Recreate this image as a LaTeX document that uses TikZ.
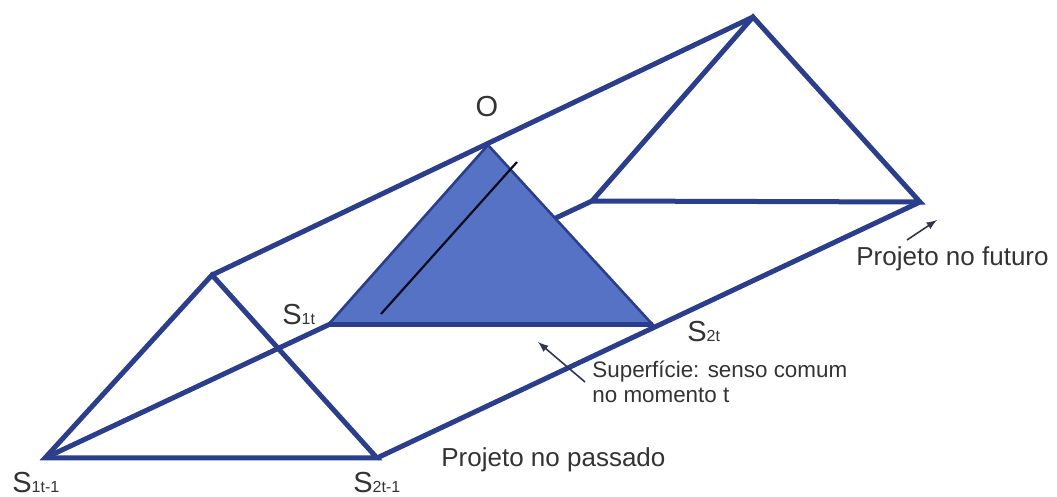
\documentclass[tikz,border=0pt]{standalone}
\usepackage{fontspec}
\setmainfont{Liberation Sans}
\usetikzlibrary{arrows}
\definecolor{prismblue}{HTML}{2B3E8C}
\definecolor{surfblue}{HTML}{5672C4}
\definecolor{labelgray}{HTML}{333333}
\tikzset{
  prism_edge/.style = {draw=prismblue, line width=2.5pt, line join=miter},% aresta do prisma
  surface/.style = {fill=surfblue, draw=prismblue, line width=1.3pt},% superficie no momento t
  axis_line/.style = {draw=black!80!prismblue, line width=1.1pt},
  pointer/.style = {-latex, draw=labelgray!70!prismblue, line width=0.8pt},
  vertex_label/.style = {text=labelgray, inner sep=0pt,
    font=\fontsize{14.5}{16}\selectfont},% rotulo de vertice
  note/.style = {text=labelgray, align=left, inner sep=0pt,
    font=\fontsize{13}{15}\selectfont}% texto explicativo
}
\newcommand{\vsub}[1]{{\fontsize{8}{9}\selectfont #1}}

\begin{document}
\begin{tikzpicture}[x=0.5pt, y=-0.5pt]
      \useasboundingbox (0,0) rectangle (1057,497);
      \coordinate (A0) at (212,275);
      \coordinate (L0) at (45,458);
      \coordinate (R0) at (377,458);
      \coordinate (O) at (488,145);
      \coordinate (L1) at (328,325);
      \coordinate (R1) at (653,325);
      \coordinate (A2) at (753,17);
      \coordinate (L2) at (592,201);
      \coordinate (R2) at (920,202);
      % arestas longitudinais e triangulos
      \draw [prism_edge] (L0) -- (L2);
      \draw [prism_edge] (R0) -- (R2);
      \draw [prism_edge] (L0) -- (A0) -- (R0) -- cycle;
      \draw [prism_edge] (L2) -- (A2) -- (R2) -- cycle;
      \draw [surface] (L1) -- (O) -- (R1) -- cycle;
      \draw [prism_edge] (L1) -- (R1);
      \draw [prism_edge] (A0) -- (A2);
      \coordinate (ax1) at (381,314);
      \coordinate (ax2) at (517,162);
      \draw [axis_line] (ax1) -- (ax2);
      % rotulos
      \node [vertex_label] (o_lbl) at (487,107) {O};
      \node [vertex_label, anchor=base west] (s1t_lbl) at (282,325) {S\vsub{1t}};
      \node [vertex_label, anchor=base west] (s2t_lbl) at (687,342) {S\vsub{2t}};
      \node [vertex_label, anchor=base west] (s1p_lbl) at (12,493) {S\vsub{1t-1}};
      \node [vertex_label, anchor=base west] (s2p_lbl) at (353,493) {S\vsub{2t-1}};
      \node [note, anchor=base west] (past) at (441,467) {Projeto no passado};
      \node [note, anchor=base west] (future) at (856,266) {Projeto no futuro};
      \node [note, anchor=base west, font=\fontsize{11.2}{12.5}\selectfont]
          (surf) at (592,403) {Superfície: senso comum\\no momento t};
      % setas
      \coordinate (fut_tail) at (907,240);
      \coordinate (fut_tip) at (937,220);
      \draw [pointer] (fut_tail) -- (fut_tip);
      \coordinate (surf_tail) at (585,382);
      \coordinate (surf_tip) at (538,342);
      \draw [pointer] (surf_tail) -- (surf_tip);
    \end{tikzpicture}
\end{document}
